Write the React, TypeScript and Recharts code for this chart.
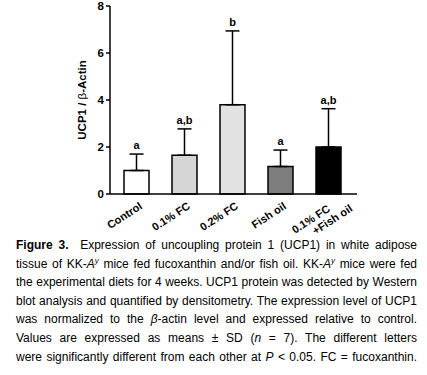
import React from "react";
import { BarChart, Bar, XAxis, YAxis, ErrorBar, Cell, LabelList } from "recharts";

const groups = ["Control", "0.1% FC", "0.2% FC", "Fish oil", "0.1% FC\n+Fish oil"];
const means = [1.0, 1.65, 3.8, 1.17, 2.0];
const sds = [0.7, 1.12, 3.14, 0.7, 1.63];
const letters = ["a", "a,b", "b", "a", "a,b"];
const fills = ["#ffffff", "#d6d6d6", "#e2e2e2", "#7d7d7d", "#000000"];
const yTicks = [0, 2, 4, 6, 8];

const data = groups.map((g, i) => ({
  group: g,
  mean: means[i],
  err: [0, sds[i]],
  letter: letters[i],
}));

const font = "'Liberation Sans', Arial, Helvetica, sans-serif";

const XTick = ({ x, y, payload }: any) => {
  const lines = String(payload.value).split("\n");
  const two = lines.length > 1;
  return (
    <g transform={`translate(${x + 7},${y + 6}) rotate(-33)`}>
      <text textAnchor="end" fontSize={11} fontWeight="bold" fontFamily={font} fill="#000">
        {lines.map((l, i) => (
          <tspan key={i} x={two ? (i ? 14 : -5) : 0} dy={i ? 12 : 0}>
            {l}
          </tspan>
        ))}
      </text>
    </g>
  );
};

// letter sits above the error bar top, worked out from the bar's own px scale
const renderLetter = (props: any) => {
  const { x, y, width, height, index } = props;
  if (index == null) return null;
  const pxPerUnit = height / means[index];
  const top = y - sds[index] * pxPerUnit;
  return (
    <text
      x={x + width / 2}
      y={top - 5}
      textAnchor="middle"
      fontSize={11}
      fontWeight="bold"
      fontFamily={font}
      fill="#000"
    >
      {letters[index]}
    </text>
  );
};

const YLabel = ({ viewBox }: any) => {
  const cx = viewBox.x + 26;
  const cy = viewBox.y + viewBox.height / 2;
  return (
    <text
      transform={`translate(${cx},${cy}) rotate(-90)`}
      textAnchor="middle"
      fontSize={11.5}
      fontWeight="bold"
      fontFamily={font}
      fill="#000"
    >
      <tspan>UCP1 / </tspan>
      <tspan fontWeight="normal">β</tspan>
      <tspan>-Actin</tspan>
    </text>
  );
};

const lineStyle: React.CSSProperties = {
  textAlign: "justify",
  textAlignLast: "justify",
  whiteSpace: "normal",
};

const supStyle: React.CSSProperties = { fontSize: 8, lineHeight: 0 };

export default function App() {
  return (
    <div
      style={{
        position: "absolute",
        left: 0,
        top: 0,
        width: 427,
        height: 375,
        background: "#fff",
        overflow: "hidden",
      }}
    >
      <BarChart
        width={380}
        height={236}
        data={data}
        margin={{ top: 6, right: 23, left: 60, bottom: 0 }}
        barSize={25}
      >
        <XAxis
          dataKey="group"
          tickLine={false}
          axisLine={{ stroke: "#000", strokeWidth: 1.5 }}
          tick={<XTick />}
          interval={0}
          height={42}
          padding={{ left: 2, right: 5 }}
        />
        <YAxis
          domain={[0, 8]}
          ticks={yTicks}
          width={50}
          axisLine={{ stroke: "#000", strokeWidth: 1.5 }}
          tickLine={{ stroke: "#000", strokeWidth: 1.5 }}
          tickSize={4}
          tick={{ fontSize: 11.5, fontWeight: "bold", fill: "#000", fontFamily: font }}
          label={<YLabel />}
        />
        <Bar dataKey="mean" stroke="#000" strokeWidth={1.5} isAnimationActive={false}>
          {data.map((d, i) => (
            <Cell key={d.group} fill={fills[i]} />
          ))}
          <ErrorBar dataKey="err" width={7} stroke="#000" strokeWidth={1.5} direction="y" />
          <LabelList dataKey="letter" content={renderLetter} />
        </Bar>
      </BarChart>
      <div
        style={{
          position: "absolute",
          left: 16,
          top: 236,
          width: 401,
          fontFamily: font,
          fontSize: 12,
          lineHeight: "18.6px",
          color: "#000",
        }}
      >
        <div style={lineStyle}>
          <b>Figure 3.</b>&nbsp; Expression of uncoupling protein 1 (UCP1) in white adipose
        </div>
        <div style={lineStyle}>
          tissue of KK-<i>A</i>
          <sup style={supStyle}>
            <i>y</i>
          </sup>{" "}
          mice fed fucoxanthin and/or fish oil. KK-<i>A</i>
          <sup style={supStyle}>
            <i>y</i>
          </sup>{" "}
          mice were fed
        </div>
        <div style={lineStyle}>the experimental diets for 4 weeks. UCP1 protein was detected by Western</div>
        <div style={lineStyle}>blot analysis and quantified by densitometry. The expression level of UCP1</div>
        <div style={lineStyle}>
          was normalized to the <i>β</i>-actin level and expressed relative to control.
        </div>
        <div style={lineStyle}>
          Values are expressed as means ± SD (<i>n</i> = 7). The different letters
        </div>
        <div style={lineStyle}>
          were significantly different from each other at <i>P</i> &lt; 0.05. FC = fucoxanthin.
        </div>
      </div>
    </div>
  );
}
